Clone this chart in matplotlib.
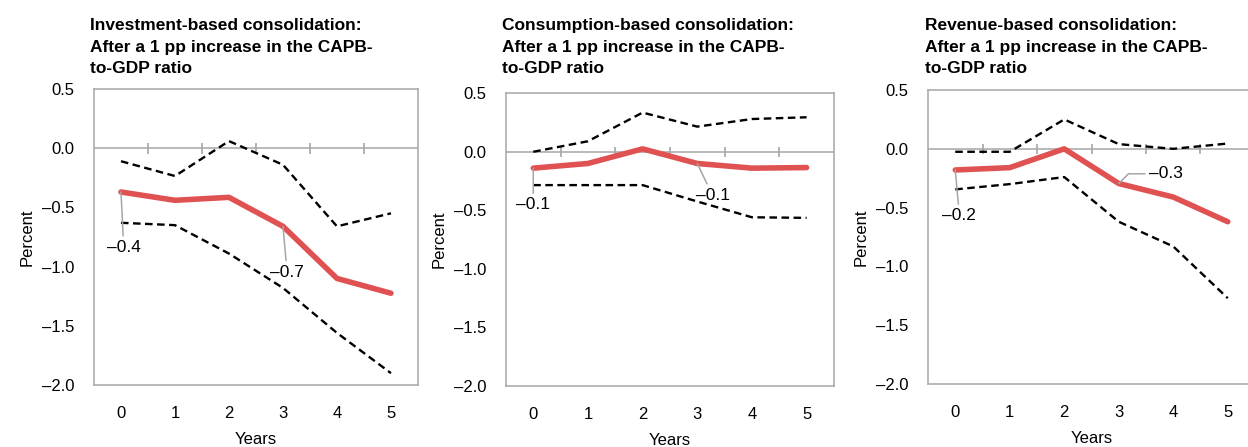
import matplotlib.pyplot as plt
from matplotlib.ticker import FuncFormatter

plt.rcParams['font.family'] = ['Liberation Sans', 'DejaVu Sans']

years = [0, 1, 2, 3, 4, 5]

# Investment-based consolidation
inv_mid = [-0.37, -0.44, -0.415, -0.66, -1.10, -1.225]
inv_upper = [-0.11, -0.235, 0.06, -0.14, -0.66, -0.55]
inv_lower = [-0.63, -0.65, -0.89, -1.18, -1.56, -1.90]

# Consumption-based consolidation
con_mid = [-0.14, -0.10, 0.025, -0.10, -0.14, -0.135]
con_upper = [0.0, 0.09, 0.335, 0.215, 0.28, 0.295]
con_lower = [-0.285, -0.285, -0.285, -0.425, -0.56, -0.565]

# Revenue-based consolidation
rev_mid = [-0.18, -0.16, 0.0, -0.295, -0.41, -0.62]
rev_upper = [-0.025, -0.025, 0.25, 0.04, 0.0, 0.045]
rev_lower = [-0.345, -0.30, -0.24, -0.62, -0.83, -1.27]

titles = [
    "Investment-based consolidation:\nAfter a 1 pp increase in the CAPB-\nto-GDP ratio",
    "Consumption-based consolidation:\nAfter a 1 pp increase in the CAPB-\nto-GDP ratio",
    "Revenue-based consolidation:\nAfter a 1 pp increase in the CAPB-\nto-GDP ratio",
]

# labelled points: (year index, label, offset in points, connection style)
labels = [
    [(0, "\u20130.4", (2, -40), None), (3, "\u20130.7", (3, -33), None)],
    [(0, "\u20130.1", (0, -26.5), None), (3, "\u20130.1", (11, -23), None)],
    [(0, "\u20130.2", (3, -33), None), (3, "\u20130.3", (34, 7), "angle,angleA=0,angleB=45,rad=0")],
]

RED = '#e05252'
GRAY = '#a6a6a6'

fig = plt.figure(figsize=(12.48, 4.47), dpi=100)

positions = [
    [0.0753, 0.1387, 0.2596, 0.6622],
    [0.4054, 0.1371, 0.2628, 0.6542],
    [0.7436, 0.1409, 0.2620, 0.6577],
]
title_x = [90, 502, 925]

series = [
    (inv_mid, inv_upper, inv_lower),
    (con_mid, con_upper, con_lower),
    (rev_mid, rev_upper, rev_lower),
]

fmt = FuncFormatter(lambda v, p: f"{v:.1f}".replace('-', '\u2013'))

for i in range(3):
    ax = fig.add_axes(positions[i])
    mid, upper, lower = series[i]

    ax.axhline(0, color=GRAY, lw=1.1, zorder=1)
    ax.vlines([y + 0.5 for y in years[:-1]], -0.045, 0.045, color=GRAY, lw=1.2, zorder=1)

    ax.plot(years, upper, color='black', lw=1.7, dashes=(3.2, 1.9), zorder=2)
    ax.plot(years, lower, color='black', lw=1.7, dashes=(3.2, 1.9), zorder=2)
    ax.plot(years, mid, color=RED, lw=4, solid_capstyle='round', zorder=3)

    for idx, txt, off, conn in labels[i]:
        props = dict(arrowstyle='-', color=GRAY, lw=1.1, shrinkA=1, shrinkB=0)
        if conn:
            props['connectionstyle'] = conn
        ax.annotate(txt, xy=(years[idx], mid[idx]), xytext=off, textcoords='offset points',
                    ha='center', va='center', fontsize=12.5, arrowprops=props, zorder=4)

    ax.set_xlim(-0.5, 5.5)
    ax.set_ylim(-2.0, 0.5)
    ax.set_xticks(years)
    ax.set_yticks([-2.0, -1.5, -1.0, -0.5, 0.0, 0.5])
    ax.yaxis.set_major_formatter(fmt)
    ax.tick_params(length=0, labelsize=12)
    ax.tick_params(axis='y', pad=14)
    ax.tick_params(axis='x', pad=15)
    for s in ax.spines.values():
        s.set_color(GRAY)
        s.set_linewidth(1.1)
    ax.set_ylabel("Percent", fontsize=12, labelpad=5)
    ax.set_xlabel("Years", fontsize=12, labelpad=8)

    fig.text(title_x[i] / 1248, 1 - 18 / 447, titles[i], ha='left', va='top',
             fontsize=12.5, fontweight='bold', linespacing=1.55)

fig.savefig('out.png', dpi=100)
